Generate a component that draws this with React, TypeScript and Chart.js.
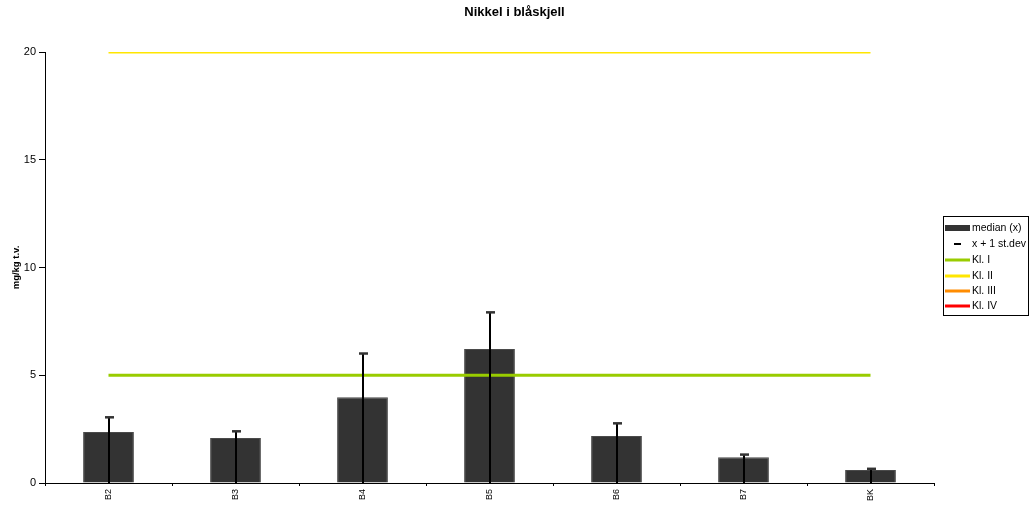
import React, { useEffect, useRef } from "react";
import { Chart, registerables } from "chart.js";

Chart.register(...registerables);

const title = "Nikkel i blåskjell";
const yTitle = "mg/kg t.v.";
const categories = ["B2", "B3", "B4", "B5", "B6", "B7", "BK"];
const medianValues = [2.37, 2.09, 3.98, 6.22, 2.18, 1.2, 0.6];
const sdTopValues = [3.06, 2.41, 6.02, 7.93, 2.78, 1.33, 0.67];
const klasse1 = [5, 5, 5, 5, 5, 5, 5];
const klasse2 = [20, 20, 20, 20, 20, 20, 20];
const klasse3 = [50, 50, 50, 50, 50, 50, 50];
const klasse4 = [100, 100, 100, 100, 100, 100, 100];
const yTicks = [0, 5, 10, 15, 20];
const legendLabels = ["median (x)", "x + 1 st.dev", "Kl. I", "Kl. II", "Kl. III", "Kl. IV"];

const FONT = "'Liberation Sans', Arial, sans-serif";

const errorBarPlugin = {
  id: "errorBars",
  afterDatasetsDraw(chart: any) {
    const ctx = chart.ctx;
    const meta = chart.getDatasetMeta(0);
    const y = chart.scales.y;
    ctx.save();
    meta.data.forEach((bar: any, i: number) => {
      const x = Math.round(bar.x);
      const yTop = y.getPixelForValue(sdTopValues[i]);
      const yBase = y.getPixelForValue(0);
      ctx.strokeStyle = "#000000";
      ctx.lineWidth = 2;
      ctx.beginPath();
      ctx.moveTo(x, yBase);
      ctx.lineTo(x, yTop);
      ctx.stroke();
      ctx.fillStyle = "#333333";
      ctx.fillRect(x - 4, yTop - 1, 9, 2.5);
    });
    ctx.restore();
  },
};

const legendPlugin = {
  id: "customLegend",
  afterDraw(chart: any) {
    const ctx = chart.ctx;
    const left = 943;
    const top = 216.5;
    const width = 86;
    const height = 99;
    ctx.save();
    ctx.fillStyle = "#ffffff";
    ctx.fillRect(left, top, width, height);
    ctx.strokeStyle = "#000000";
    ctx.lineWidth = 1;
    ctx.strokeRect(left + 0.5, top, width - 1, height);
    const rowYs = [228, 244, 260, 276, 291, 306];
    const colors = ["#333333", "#000000", "#99CC00", "#FFE600", "#FF8C00", "#FF0000"];
    ctx.font = `10.5px ${FONT}`;
    ctx.textBaseline = "middle";
    legendLabels.forEach((label, i) => {
      const ry = rowYs[i];
      if (i === 0) {
        ctx.fillStyle = colors[0];
        ctx.fillRect(945, ry - 3, 25, 6);
      } else if (i === 1) {
        ctx.fillStyle = "#000000";
        ctx.fillRect(954, ry - 1, 7, 2);
      } else {
        ctx.fillStyle = colors[i];
        ctx.fillRect(945, ry - 1.5, 25, 3);
      }
      ctx.fillStyle = "#000000";
      ctx.fillText(label, 972, ry);
    });
    ctx.restore();
  },
};

export default function App() {
  const canvasRef = useRef<HTMLCanvasElement | null>(null);

  useEffect(() => {
    if (!canvasRef.current) return;
    const lineDs = (label: string, data: number[], color: string) => ({
      type: "line" as const,
      label,
      data,
      borderColor: color,
      backgroundColor: color,
      borderWidth: 3,
      pointRadius: 0,
      fill: false,
      order: 0,
    });
    const chart = new Chart(canvasRef.current, {
      type: "bar",
      data: {
        labels: categories,
        datasets: [
          {
            type: "bar",
            label: legendLabels[0],
            data: medianValues,
            backgroundColor: "#333333",
            borderColor: "#4a4a4a",
            borderWidth: 1,
            barPercentage: 0.8,
            categoryPercentage: 0.5,
            order: 1,
          } as any,
          lineDs(legendLabels[2], klasse1, "#99CC00"),
          lineDs(legendLabels[3], klasse2, "#FFE600"),
          lineDs(legendLabels[4], klasse3, "#FF8C00"),
          lineDs(legendLabels[5], klasse4, "#FF0000"),
        ],
      },
      options: {
        animation: false,
        responsive: true,
        maintainAspectRatio: false,
        layout: { padding: 0 },
        plugins: {
          legend: { display: false },
          tooltip: { enabled: false },
          title: {
            display: true,
            text: title,
            color: "#000000",
            font: { family: FONT, size: 13, weight: "bold" },
            padding: { top: 5, bottom: 31.4 },
          },
        },
        scales: {
          x: {
            afterFit: (scale: any) => {
              scale.height = 24;
            },
            grid: {
              display: true,
              drawOnChartArea: false,
              drawTicks: true,
              tickLength: 3,
              color: "#000000",
              offset: true,
            },
            border: { display: true, color: "#000000", width: 1 },
            ticks: {
              color: "#000000",
              font: { family: FONT, size: 9 },
              minRotation: 90,
              maxRotation: 90,
              padding: 3,
            },
          },
          y: {
            min: 0,
            max: 20,
            afterFit: (scale: any) => {
              scale.width = 45;
            },
            afterBuildTicks: (scale: any) => {
              scale.ticks = yTicks.map((v) => ({ value: v }));
            },
            grid: {
              display: true,
              drawOnChartArea: false,
              drawTicks: true,
              tickLength: 6,
              color: "#000000",
            },
            border: { display: true, color: "#000000", width: 1 },
            ticks: {
              color: "#000000",
              font: { family: FONT, size: 11 },
              padding: 3,
            },
            title: {
              display: true,
              text: yTitle,
              color: "#000000",
              font: { family: FONT, size: 9.5, weight: "bold" },
              padding: { top: 11, bottom: 0 },
            },
          },
          legendSpace: {
            type: "linear",
            position: "right",
            display: true,
            afterFit: (scale: any) => {
              scale.width = 95;
            },
            grid: { display: false, drawTicks: false },
            border: { display: false },
            ticks: { display: false },
          } as any,
        },
      },
      plugins: [errorBarPlugin, legendPlugin],
    });
    return () => chart.destroy();
  }, []);

  return (
    <div style={{ position: "fixed", left: 0, top: 0, width: 1029, height: 507, background: "#ffffff" }}>
      <canvas ref={canvasRef} />
    </div>
  );
}
